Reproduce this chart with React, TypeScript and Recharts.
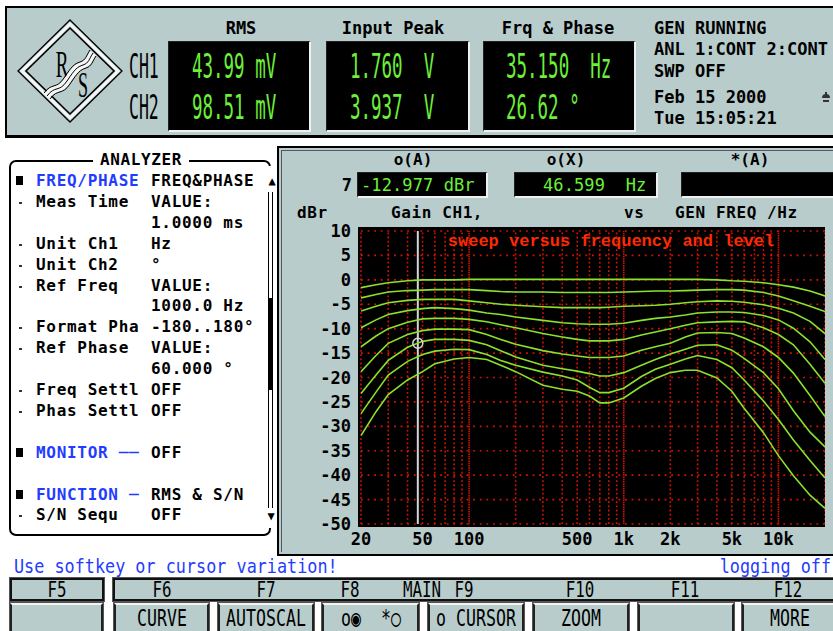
import React from 'react';
import { LineChart, Line, XAxis, YAxis, ReferenceLine, ReferenceDot } from 'recharts';

// ---------- data ----------
const FREQS = [20, 25, 30, 40, 50, 60, 80, 100, 130, 160, 200, 300, 400, 500, 600, 700, 800, 1000, 1300, 1600, 2000, 2500, 3000, 4000, 5000, 6000, 8000, 10000, 12500, 16000, 20000];
const CURVE_1 = [-1.6, -1.0, -0.6, -0.2, 0, 0, 0, 0.1, 0.1, 0.1, 0.1, 0.1, 0.1, 0.1, 0.1, 0.1, 0.1, 0.1, 0.1, 0.1, 0.1, 0.1, 0.1, 0, -0.2, -0.3, -0.6, -1.0, -1.5, -2.3, -3.3];
const CURVE_2 = [-3.7, -3.0, -2.5, -2.2, -2.1, -2.0, -2.0, -2.0, -2.2, -2.4, -2.5, -2.5, -2.6, -2.6, -2.6, -2.6, -2.6, -2.5, -2.4, -2.3, -2.3, -2.2, -2.1, -2.0, -2.0, -2.1, -2.6, -3.3, -4.3, -5.4, -6.5];
const CURVE_3 = [-6.4, -5.4, -4.7, -4.2, -4.0, -4.0, -4.0, -4.3, -4.7, -5.0, -5.2, -5.5, -5.7, -5.7, -5.7, -5.7, -5.6, -5.4, -5.3, -5.2, -5.0, -4.7, -4.5, -4.3, -4.4, -4.6, -5.1, -5.8, -6.8, -8.5, -11.0];
const CURVE_4 = [-9.8, -8.2, -7.1, -6.3, -5.9, -5.7, -5.9, -6.2, -6.8, -7.1, -7.6, -8.3, -8.8, -9.0, -9.1, -9.1, -9.1, -8.9, -8.3, -7.9, -7.6, -7.2, -6.8, -6.6, -6.6, -6.7, -7.3, -8.2, -9.9, -12.7, -16.3];
const CURVE_5 = [-13.7, -11.5, -10.0, -8.7, -8.0, -7.9, -7.9, -8.1, -8.6, -9.2, -9.8, -11.0, -11.7, -12.2, -12.5, -12.5, -12.5, -12.2, -11.3, -10.7, -10.0, -9.3, -8.8, -8.6, -8.5, -8.6, -9.8, -11.2, -13.3, -17.3, -21.2];
const CURVE_6 = [-18.8, -15.5, -13.0, -11.2, -10.4, -10.1, -10.1, -10.2, -11.2, -12.2, -13.2, -14.5, -15.2, -15.6, -15.9, -15.9, -15.9, -15.6, -14.4, -13.7, -13.0, -11.7, -10.9, -10.8, -11.0, -11.9, -13.7, -15.9, -19.1, -23.7, -28.0];
const CURVE_7 = [-23.3, -19.5, -16.5, -13.8, -12.6, -12.2, -12.2, -12.4, -13.3, -14.5, -15.8, -17.5, -18.2, -18.7, -19.2, -19.7, -19.7, -19.0, -17.5, -16.3, -15.2, -14.2, -13.4, -13.3, -14.4, -16.1, -19.0, -22.3, -26.8, -31.2, -34.2];
const CURVE_8 = [-27.4, -23.0, -19.5, -16.7, -15.3, -14.6, -14.2, -14.3, -15.3, -16.5, -17.5, -18.9, -19.7, -20.5, -22.0, -23.1, -23.1, -22.2, -19.8, -18.3, -17.3, -16.2, -15.5, -16.3, -18.0, -20.5, -24.8, -28.6, -32.8, -37.0, -40.6];
const CURVE_9 = [-31.9, -27.0, -23.5, -20.5, -18.8, -17.2, -16.2, -15.9, -16.3, -17.5, -18.8, -21.6, -22.4, -22.8, -23.8, -25.2, -25.2, -24.2, -21.8, -20.2, -19.0, -18.5, -18.5, -20.1, -22.8, -26.3, -31.3, -36.0, -40.1, -44.1, -46.8];
const SERIES = [CURVE_1, CURVE_2, CURVE_3, CURVE_4, CURVE_5, CURVE_6, CURVE_7, CURVE_8, CURVE_9];

const X_TICKS = [20, 50, 100, 500, 1000, 2000, 5000, 10000];
const X_LABELS = ['20', '50', '100', '500', '1k', '2k', '5k', '10k'];
const Y_TICKS = [10, 5, 0, -5, -10, -15, -20, -25, -30, -35, -40, -45, -50];
const GRID_FREQS = [20, 30, 40, 50, 60, 70, 80, 90, 100, 200, 300, 400, 500, 600, 700, 800, 900, 1000, 2000, 3000, 4000, 5000, 6000, 7000, 8000, 9000, 10000, 20000];
const DECADES = [100, 1000, 10000];
const CURSOR_F = 46.599;
const CURSOR_V = -12.977;

const chartData = FREQS.map((f, i) => {
  const row: Record<string, number> = { f };
  SERIES.forEach((s, k) => { row['c' + (k + 1)] = s[i]; });
  return row;
});

// ---------- styles ----------
const MONO = "'DejaVu Sans Mono', 'Liberation Mono', monospace";
const PANEL = '#b8cccc';
const GREEN = '#6cf03a';
const BLUE = '#1f3cff';
const RED = '#ff2a00';
const CURVE_COLOR = '#8ae22c';
const GRID = '#d81200';

type TP = { x: number; y: number; s?: number; c?: string; f?: string; w?: number; sx?: number; a?: 'l' | 'c' | 'r'; ls?: number; children: React.ReactNode };
function T({ x, y, s = 16, c = '#000', f = MONO, w = 700, sx = 1, a = 'l', ls = 0, children }: TP) {
  const tx = a === 'l' ? '0' : a === 'c' ? '-50%' : '-100%';
  const origin = a === 'l' ? 'left center' : a === 'c' ? 'center center' : 'right center';
  return (
    <div style={{ position: 'absolute', left: x, top: y, fontFamily: f, fontSize: s, fontWeight: w, color: c, letterSpacing: ls, whiteSpace: 'pre', lineHeight: 1, transform: `translate(${tx},-50%) scaleX(${sx})`, transformOrigin: origin }}>
      {children}
    </div>
  );
}

function BlackBox({ x, y, w, h }: { x: number; y: number; w: number; h: number }) {
  return <div style={{ position: 'absolute', left: x, top: y, width: w, height: h, boxSizing: 'border-box', background: '#000', borderTop: '1px solid #222', borderLeft: '1px solid #222', borderRight: '2px solid #f0f0f0', borderBottom: '2px solid #f0f0f0' }} />;
}

function Logo() {
  const wave = 'M46,95 C54,84 58,92 66,80 S76,66 82,64 S88,58 92,52';
  return (
    <svg style={{ position: 'absolute', left: 0, top: 0 }} width={140} height={140}>
      <polygon points="70,20 122,71 70,122 18,71" fill="none" stroke="#000" strokeWidth={1.3} />
      <polygon points="70,24 118,71 70,118 22,71" fill="none" stroke="#f6f6f6" strokeWidth={3} />
      <polygon points="70,28 114,71 70,114 26,71" fill="none" stroke="#000" strokeWidth={1.6} />
      <text x={62} y={77} fontFamily="'Liberation Serif', serif" fontSize={38} textAnchor="middle" transform="translate(62,0) scale(0.5,1) translate(-62,0)">R</text>
      <text x={83} y={97} fontFamily="'Liberation Serif', serif" fontSize={36} textAnchor="middle" transform="translate(83,0) scale(0.5,1) translate(-83,0)">S</text>
      <path d={wave} fill="none" stroke="#f6f6f6" strokeWidth={7} transform="translate(1,1)" />
      <path d={wave} fill="none" stroke="#000" strokeWidth={1} transform="translate(-2,-2)" />
      <path d={wave} fill="none" stroke="#000" strokeWidth={1} transform="translate(1,1)" />
      <path d={wave} fill="none" stroke="#000" strokeWidth={1} transform="translate(4,4)" />
    </svg>
  );
}

type MenuRow = { b: string; l: string; v: string; head?: boolean } | null;
const MENU: MenuRow[] = [
  { b: '■', l: 'FREQ/PHASE', v: 'FREQ&PHASE', head: true },
  { b: '-', l: 'Meas Time', v: 'VALUE:' },
  { b: '', l: '', v: '1.0000 ms' },
  { b: '-', l: 'Unit Ch1', v: 'Hz' },
  { b: '-', l: 'Unit Ch2', v: '°' },
  { b: '-', l: 'Ref Freq', v: 'VALUE:' },
  { b: '', l: '', v: '1000.0 Hz' },
  { b: '-', l: 'Format Pha', v: '-180..180°' },
  { b: '-', l: 'Ref Phase', v: 'VALUE:' },
  { b: '', l: '', v: '60.000 °' },
  { b: '-', l: 'Freq Settl', v: 'OFF' },
  { b: '-', l: 'Phas Settl', v: 'OFF' },
  null,
  { b: '■', l: 'MONITOR ──', v: 'OFF', head: true },
  null,
  { b: '■', l: 'FUNCTION ─', v: 'RMS & S/N', head: true },
  { b: '-', l: 'S/N Sequ', v: 'OFF' },
];

const F_LABELS: [string, number][] = [['F5', 57], ['F6', 162], ['F7', 266], ['F8', 350], ['MAIN', 422], ['F9', 464], ['F10', 580], ['F11', 685], ['F12', 788]];
const BUTTONS: [string, number, number][] = [['', 10, 93], ['CURVE', 114, 95], ['AUTOSCAL', 218, 96], ['o◉  *○', 322, 97], ['o CURSOR', 428, 96], ['ZOOM', 533, 96], ['', 638, 96], ['MORE', 742, 95]];

function Btn({ x, w, label }: { x: number; w: number; label: string }) {
  return (
    <>
      <div style={{ position: 'absolute', left: x, top: 603, width: w, height: 30, boxSizing: 'border-box', background: PANEL, borderTop: '2px solid #f4f4f4', borderLeft: '2px solid #222', borderRight: '2px solid #222', borderBottom: '2px solid #222', outline: '1px solid #555' }} />
      {label && <T x={x + w / 2} y={618} s={23} w={400} sx={0.72} a="c">{label}</T>}
    </>
  );
}

export default function App() {
  return (
    <div style={{ position: 'absolute', left: 0, top: 0, width: 833, height: 631, overflow: 'hidden', background: '#fff' }}>
      {/* ---------------- top status panel ---------------- */}
      <div style={{ position: 'absolute', left: 5, top: 6, width: 840, height: 132, boxSizing: 'border-box', background: PANEL, borderTop: '2px solid #000', borderLeft: '2px solid #000', borderBottom: '3px solid #000' }} />
      <Logo />
      <T x={241} y={28} s={17} a="c">RMS</T>
      <T x={393} y={28} s={17} a="c">Input Peak</T>
      <T x={558} y={28} s={17} a="c">Frq &amp; Phase</T>
      <BlackBox x={168} y={41} w={143} h={91} />
      <BlackBox x={326} y={41} w={144} h={91} />
      <BlackBox x={483} y={41} w={153} h={91} />
      <T x={129} y={66} s={33} w={400} sx={0.5}>CH1</T>
      <T x={129} y={107} s={33} w={400} sx={0.5}>CH2</T>
      <T x={192} y={66} s={33} w={400} sx={0.53} c={GREEN}>43.99 mV</T>
      <T x={192} y={107} s={33} w={400} sx={0.53} c={GREEN}>98.51 mV</T>
      <T x={350} y={66} s={33} w={400} sx={0.53} c={GREEN}>1.760  V</T>
      <T x={350} y={107} s={33} w={400} sx={0.53} c={GREEN}>3.937  V</T>
      <T x={506} y={66} s={33} w={400} sx={0.53} c={GREEN}>35.150  Hz</T>
      <T x={506} y={107} s={33} w={400} sx={0.53} c={GREEN}>26.62 °</T>
      <T x={654} y={28} s={17}>GEN RUNNING</T>
      <T x={654} y={49} s={17}>ANL 1:CONT 2:CONT</T>
      <T x={654} y={71} s={17}>SWP OFF</T>
      <T x={654} y={97} s={17}>Feb 15 2000</T>
      <T x={654} y={118} s={17}>Tue 15:05:21</T>
      <svg style={{ position: 'absolute', left: 820, top: 90 }} width={12} height={14}>
        <path d="M2,8 A4,4 0 0 1 10,8 Z" fill="#333" />
        <rect x={5} y={2} width={2} height={3} fill="#333" />
        <rect x={3} y={10} width={6} height={2} fill="#333" />
      </svg>

      {/* ---------------- analyzer menu panel ---------------- */}
      <div style={{ position: 'absolute', left: 9, top: 160, width: 262, height: 376, boxSizing: 'border-box', background: '#fff', border: '2px solid #000', borderRadius: 7 }} />
      <div style={{ position: 'absolute', left: 93, top: 152, width: 96, height: 16, background: '#fff' }} />
      <T x={141} y={160} s={16} a="c" ls={0.6}>ANALYZER</T>
      {MENU.map((r, i) => {
        if (!r) return null;
        const y = 181 + i * 20.9;
        return (
          <React.Fragment key={i}>
            {r.b === '■' && <div style={{ position: 'absolute', left: 16, top: y - 5, width: 7, height: 9, background: '#000' }} />}
            {r.b === '-' && <div style={{ position: 'absolute', left: 19, top: y, width: 3, height: 2, background: '#333' }} />}
            {r.l && <T x={36} y={y} s={16} ls={0.7} c={r.head ? BLUE : '#000'}>{r.l}</T>}
            <T x={151} y={y} s={16} ls={0.7}>{r.v}</T>
          </React.Fragment>
        );
      })}
      {/* scrollbar */}
      <div style={{ position: 'absolute', left: 264, top: 166, width: 7, height: 362, background: '#fff' }} />
      <T x={272} y={181} s={12} a="c">▲</T>
      <T x={271} y={516} s={12} a="c">▼</T>
      <div style={{ position: 'absolute', left: 268, top: 192, width: 1, height: 316, background: '#000' }} />
      <div style={{ position: 'absolute', left: 272, top: 192, width: 1, height: 316, background: '#000' }} />
      <div style={{ position: 'absolute', left: 268, top: 298, width: 5, height: 92, background: '#000' }} />

      {/* ---------------- graph panel ---------------- */}
      <div style={{ position: 'absolute', left: 277, top: 146, width: 570, height: 410, boxSizing: 'border-box', background: PANEL, borderTop: '2px solid #000', borderLeft: '2px solid #000', borderBottom: '2px solid #000' }} />
      <div style={{ position: 'absolute', left: 281, top: 150, width: 560, height: 402, boxSizing: 'border-box', borderTop: '1px solid #556', borderLeft: '1px solid #556' }} />
      <T x={413} y={160} s={16} a="c">o(A)</T>
      <T x={566} y={160} s={16} a="c">o(X)</T>
      <T x={750} y={160} s={16} a="c">*(A)</T>
      <T x={352} y={185} s={17} a="r">7</T>
      <BlackBox x={357} y={172} w={131} h={26} />
      <BlackBox x={514} y={172} w={144} h={26} />
      <BlackBox x={681} y={172} w={160} h={26} />
      <T x={361} y={185} s={17} c={GREEN} w={400} ls={0.1}>-12.977 dBr</T>
      <T x={543} y={185} s={17} c={GREEN} w={400} ls={0.1}>46.599  Hz</T>
      <T x={297} y={213} s={16} ls={0.6}>dBr</T>
      <T x={391} y={213} s={16} ls={0.6}>Gain CH1,</T>
      <T x={624} y={213} s={16} ls={0.6}>vs</T>
      <T x={675} y={213} s={16} ls={0.6}>GEN FREQ /Hz</T>

      {/* plot black background */}
      <div style={{ position: 'absolute', left: 358, top: 227, width: 467, height: 300, background: '#000' }} />

      <div style={{ position: 'absolute', left: 291, top: 221 }}>
        <LineChart width={534} height={333} data={chartData} margin={{ top: 10, right: 0, left: 0, bottom: 0 }}>
          <XAxis
            dataKey="f"
            type="number"
            scale="log"
            domain={[20, 20000]}
            ticks={X_TICKS}
            interval={0}
            allowDataOverflow
            axisLine={false}
            tickLine={false}
            tickSize={0}
            tickMargin={9}
            height={30}
            tickFormatter={(v: number) => X_LABELS[X_TICKS.indexOf(v)] ?? String(v)}
            tick={{ fill: '#000', fontSize: 17, fontFamily: MONO, fontWeight: 700 }}
          />
          <YAxis
            type="number"
            domain={[-50, 10]}
            ticks={Y_TICKS}
            interval={0}
            allowDataOverflow
            axisLine={false}
            tickLine={false}
            tickSize={0}
            tickMargin={10}
            width={70}
            tick={{ fill: '#000', fontSize: 17, fontFamily: MONO, fontWeight: 700 }}
          />
          {Y_TICKS.map((v) => (
            <ReferenceLine key={'h' + v} y={v} stroke={GRID} strokeWidth={1.6} strokeDasharray="1.8 4.8" ifOverflow="visible" />
          ))}
          {GRID_FREQS.map((f) => (
            <ReferenceLine key={'v' + f} x={f} stroke={GRID} strokeWidth={1.6} strokeDasharray={DECADES.includes(f) ? '1.5 0.8' : '1.8 2.4'} ifOverflow="visible" />
          ))}
          <ReferenceLine x={CURSOR_F} stroke="#d4d4d4" strokeWidth={2} />
          {SERIES.map((_, k) => (
            <Line key={k} type="linear" dataKey={'c' + (k + 1)} stroke={CURVE_COLOR} strokeWidth={1.6} dot={false} isAnimationActive={false} />
          ))}
          <ReferenceDot x={CURSOR_F} y={CURSOR_V} r={5} fill="none" stroke="#d8d8d8" strokeWidth={1.5} />
        </LineChart>
      </div>
      <T x={611} y={241} s={17} c={RED} f="'Liberation Mono', monospace" a="c">sweep versus frequency and level</T>

      {/* ---------------- status + softkeys ---------------- */}
      <T x={14} y={566} s={20} w={400} sx={0.84} c={BLUE}>Use softkey or cursor variation!</T>
      <T x={831} y={566} s={20} w={400} sx={0.84} c={BLUE} a="r">logging off</T>
      <div style={{ position: 'absolute', left: 10, top: 578, width: 94, height: 23, boxSizing: 'border-box', background: PANEL, border: '2px solid #111', outline: '1px solid #555' }} />
      <div style={{ position: 'absolute', left: 113, top: 578, width: 740, height: 23, boxSizing: 'border-box', background: PANEL, border: '2px solid #111', outline: '1px solid #555' }} />
      {F_LABELS.map(([l, x]) => (
        <T key={l} x={x} y={590} s={22} w={400} sx={0.72} a="c">{l}</T>
      ))}
      {BUTTONS.map(([l, x, w]) => (
        <Btn key={x} x={x} w={w} label={l} />
      ))}
    </div>
  );
}
